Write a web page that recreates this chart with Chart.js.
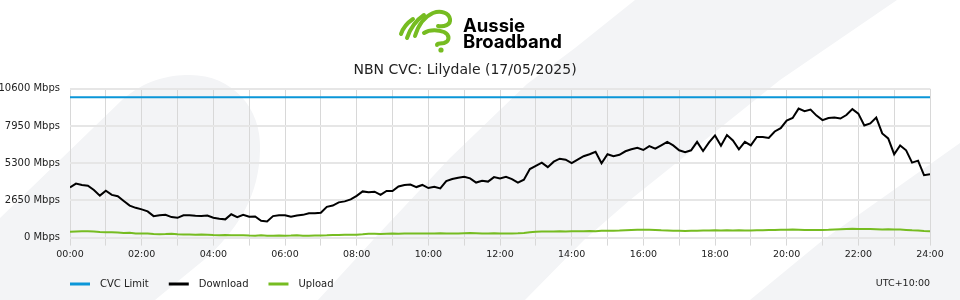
<!DOCTYPE html>
<html>
<head>
<meta charset="utf-8">
<title>NBN CVC: Lilydale</title>
<script src="https://cdn.jsdelivr.net/npm/chart.js@4.4.1/dist/chart.umd.min.js"></script>
<style>
  html, body { margin: 0; padding: 0; background: #fff; }
  #wrap { width: 960px; height: 300px; }
</style>
</head>
<body>
<div id="wrap"><canvas id="cvc" width="960" height="300"></canvas></div>
<script>
// samples every 10 minutes, 00:00 -> 24:00
const stepMinutes = 10
const download = [
	3570, 3850, 3745, 3700, 3390, 2990, 3340, 3040, 2950, 2610, 2280, 2120,
	2010, 1870, 1530, 1590, 1620, 1460, 1410, 1590, 1590, 1550, 1540, 1570,
	1410, 1340, 1300, 1660, 1460, 1620, 1480, 1500, 1200, 1150, 1530, 1590,
	1590, 1480, 1570, 1620, 1730, 1730, 1770, 2190, 2280, 2510, 2580, 2720,
	2970, 3290, 3230, 3270, 3040, 3320, 3320, 3640, 3750, 3780, 3600, 3750,
	3530, 3620, 3500, 4030, 4170, 4260, 4330, 4220, 3920, 4050, 3990, 4310,
	4220, 4330, 4170, 3920, 4130, 4880, 5110, 5340, 5020, 5410, 5620, 5550,
	5300, 5560, 5800, 5940, 6110, 5300, 5940, 5800, 5900, 6150, 6290, 6400,
	6240, 6520, 6330, 6570, 6820, 6570, 6220, 6080, 6220, 6820, 6170, 6780,
	7280, 6540, 7310, 6920, 6290, 6820, 6570, 7170, 7170, 7100, 7560, 7800,
	8340, 8520, 9190, 9010, 9120, 8690, 8370, 8520, 8550, 8480, 8730, 9150,
	8830, 7990, 8130, 8550, 7420, 7070, 5940, 6570, 6220, 5340, 5480, 4450,
	4520
]
const upload = [
	420, 440, 445, 445, 440, 400, 380, 380, 370, 330, 350, 300,
	300, 290, 250, 240, 250, 270, 240, 220, 220, 210, 220, 200,
	180, 170, 190, 170, 160, 170, 150, 140, 160, 140, 140, 150,
	140, 145, 170, 140, 140, 150, 150, 160, 180, 190, 200, 200,
	210, 240, 280, 270, 250, 280, 290, 280, 290, 300, 300, 290,
	300, 290, 310, 300, 290, 300, 310, 320, 310, 300, 300, 310,
	300, 290, 300, 310, 330, 380, 420, 430, 440, 430, 450, 440,
	450, 460, 450, 470, 460, 480, 480, 490, 500, 520, 540, 560,
	560, 560, 540, 520, 510, 490, 480, 470, 480, 490, 500, 510,
	520, 510, 520, 500, 520, 510, 510, 520, 530, 540, 550, 560,
	560, 570, 560, 550, 540, 550, 550, 560, 580, 600, 620, 630,
	620, 620, 610, 600, 580, 590, 570, 570, 550, 520, 500, 470,
	450
]
const cvcTimes = [0, 24]
const cvcLimit = [10000, 10000]
const yTicks = [0, 2650, 5300, 7950, 10600]
const seriesNames = ['CVC Limit', 'Download', 'Upload']
const seriesColors = ['#0a96d8', '#000000', '#76bc21']
const chartTitle = 'NBN CVC: Lilydale (17/05/2025)'
const tzLabel = 'UTC+10:00'

const hours = download.map((_, i) => (i * stepMinutes) / 60)
const pair = (xs, ys) => ys.map((y, i) => ({ x: xs[i], y }))

const FONT = '"DejaVu Sans", sans-serif'
Chart.defaults.font.family = FONT
Chart.defaults.color = '#222'

// faint grey swooshes behind everything
const backdrop = {
	id: 'backdrop',
	beforeDraw(chart) {
		const ctx = chart.ctx
		ctx.save()
		ctx.fillStyle = '#f3f4f6'

		ctx.beginPath()
		ctx.moveTo(0, 218)
		ctx.lineTo(122, 100)
		ctx.bezierCurveTo(145, 80, 168, 75, 190, 75)
		ctx.bezierCurveTo(232, 75, 262, 108, 260, 150)
		ctx.bezierCurveTo(259, 195, 240, 225, 210, 255)
		ctx.lineTo(155, 300)
		ctx.lineTo(0, 300)
		ctx.closePath()
		ctx.fill()

		ctx.beginPath()
		ctx.moveTo(318, 300)
		ctx.lineTo(373, 240)
		ctx.lineTo(450, 158)
		ctx.lineTo(527, 84)
		ctx.lineTo(575, 48)
		ctx.lineTo(635, 0)
		ctx.lineTo(897, 0)
		ctx.lineTo(780, 80)
		ctx.lineTo(630, 200)
		ctx.lineTo(584, 240)
		ctx.lineTo(525, 300)
		ctx.closePath()
		ctx.fill()

		ctx.beginPath()
		ctx.moveTo(750, 300)
		ctx.lineTo(823, 240)
		ctx.lineTo(960, 143)
		ctx.lineTo(960, 300)
		ctx.closePath()
		ctx.fill()

		// logo
		ctx.strokeStyle = '#76bc21'
		ctx.fillStyle = '#76bc21'
		ctx.lineWidth = 4
		ctx.lineCap = 'round'
		ctx.lineJoin = 'round'
		const strokes = [
			'M401 34 C403 28 407 23 413 19',
			'M407 38 C410 29 415 21 424 15',
			'M415 36 C418 26 424 17 433 13 C441 10 449 13 450 19 C451 25 444 27 438 26',
			'M424 33 C430 29 439 30 444 32 C450 35 450 41 444 43 C440 44 437 43 437 45'
		]
		strokes.forEach(d => ctx.stroke(new Path2D(d)))
		ctx.beginPath()
		ctx.arc(441, 50, 2.6, 0, Math.PI * 2)
		ctx.fill()

		ctx.fillStyle = '#000'
		ctx.font = '700 18.5px Inter, sans-serif'
		ctx.textAlign = 'left'
		ctx.textBaseline = 'alphabetic'
		ctx.fillText('Aussie', 463, 32)
		ctx.fillText('Broadband', 463, 48)
		ctx.restore()
	}
}

// legend row + timezone under the x axis
const legendRow = {
	id: 'legendRow',
	afterDraw(chart) {
		const { ctx, chartArea } = chart
		const y = 284
		ctx.save()
		ctx.font = '10px ' + FONT
		ctx.textBaseline = 'middle'
		ctx.textAlign = 'left'
		let x = chartArea.left
		chart.data.datasets.forEach(ds => {
			ctx.fillStyle = ds.borderColor
			ctx.fillRect(x, y - 1.5, 20, 3)
			ctx.fillStyle = '#222'
			ctx.fillText(ds.label, x + 30, y)
			x += 30 + ctx.measureText(ds.label).width + 20
		})
		ctx.textAlign = 'right'
		ctx.fillStyle = '#222'
		ctx.font = '9.5px ' + FONT
		ctx.fillText(tzLabel, chartArea.right, y)
		ctx.restore()
	}
}

const lineDefaults = { borderWidth: 2, pointRadius: 0, tension: 0, fill: false }

new Chart(document.getElementById('cvc').getContext('2d'), {
	type: 'line',
	data: {
		datasets: [
			{ ...lineDefaults, label: seriesNames[0], borderColor: seriesColors[0], data: pair(cvcTimes, cvcLimit) },
			{ ...lineDefaults, label: seriesNames[1], borderColor: seriesColors[1], data: pair(hours, download) },
			{ ...lineDefaults, label: seriesNames[2], borderColor: seriesColors[2], data: pair(hours, upload) }
		]
	},
	options: {
		responsive: false,
		animation: false,
		devicePixelRatio: 1,
		layout: { padding: { left: 0, right: 30, bottom: 37, top: 0 } },
		plugins: {
			legend: { display: false },
			tooltip: { enabled: false },
			title: {
				display: true,
				text: chartTitle,
				color: '#222',
				font: { size: 14, weight: 'normal', family: FONT },
				padding: { top: 62, bottom: 10 }
			}
		},
		scales: {
			x: {
				type: 'linear',
				min: 0,
				max: 24,
				border: { display: false },
				grid: { color: '#d8d8d8', lineWidth: 1, tickLength: 8 },
				ticks: {
					stepSize: 1,
					autoSkip: false,
					maxRotation: 0,
					padding: 3,
					font: { size: 9.5 },
					callback: v => (v % 2 === 0 ? String(v).padStart(2, '0') + ':00' : '')
				}
			},
			y: {
				min: 0,
				max: 10600,
				border: { display: false },
				grid: { color: '#e6e6e6', lineWidth: 2, drawTicks: false },
				afterBuildTicks: scale => { scale.ticks = yTicks.map(value => ({ value })) },
				afterFit: scale => { scale.width = 70 },
				ticks: {
					padding: 10,
					font: { size: 10 },
					callback: v => v + ' Mbps'
				}
			}
		}
	},
	plugins: [backdrop, legendRow]
})
</script>
</body>
</html>
